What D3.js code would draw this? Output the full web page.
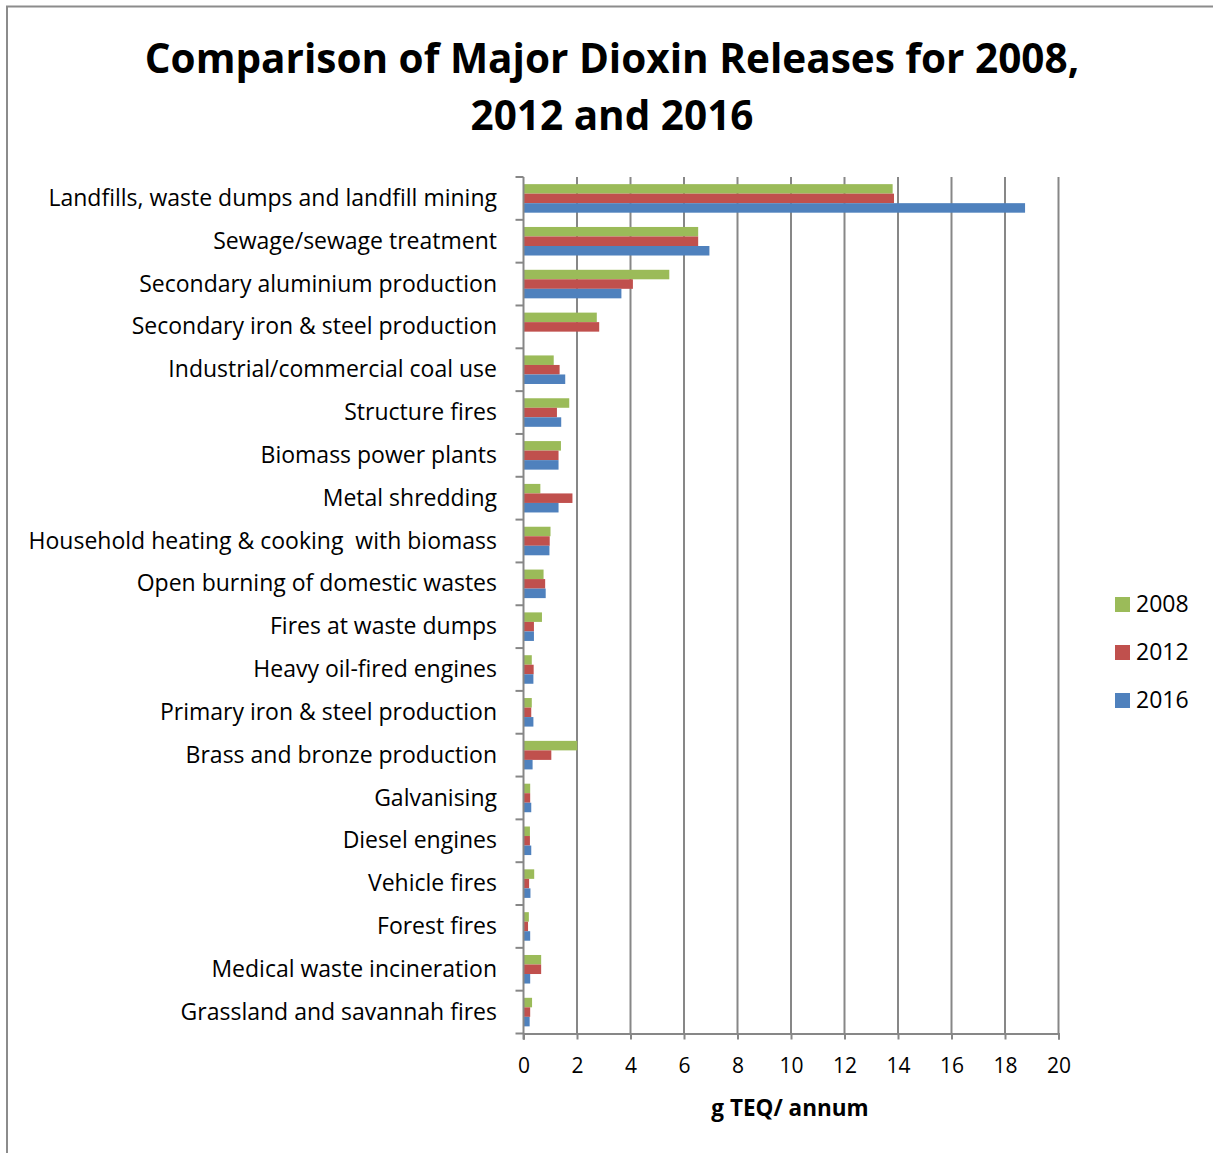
<!DOCTYPE html>
<html>
<head>
<meta charset="utf-8">
<script src="https://cdn.jsdelivr.net/npm/d3@7"></script>
<style>
  html, body { margin: 0; padding: 0; background: #fff; }
  svg { display: block; }
  text { font-family: "Open Sans", Lato, sans-serif; fill: #000; white-space: pre; }
</style>
</head>
<body>
<svg id="chart" width="1213" height="1153"></svg>
<script>
const categories = [
  "Landfills, waste dumps and landfill mining",
  "Sewage/sewage treatment",
  "Secondary aluminium production",
  "Secondary iron & steel production",
  "Industrial/commercial coal use",
  "Structure fires",
  "Biomass power plants",
  "Metal shredding",
  "Household heating & cooking  with biomass",
  "Open burning of domestic wastes",
  "Fires at waste dumps",
  "Heavy oil-fired engines",
  "Primary iron & steel production",
  "Brass and bronze production",
  "Galvanising",
  "Diesel engines",
  "Vehicle fires",
  "Forest fires",
  "Medical waste incineration",
  "Grassland and savannah fires"
];
const seriesNames = ["2008", "2012", "2016"];
const values2008 = [13.8, 6.53, 5.45, 2.74, 1.13, 1.71, 1.40, 0.63, 1.01, 0.75, 0.69, 0.31, 0.31, 2.01, 0.25, 0.24, 0.40, 0.20, 0.66, 0.32];
const values2012 = [13.85, 6.53, 4.09, 2.83, 1.35, 1.25, 1.31, 1.83, 0.98, 0.81, 0.39, 0.38, 0.29, 1.04, 0.25, 0.24, 0.21, 0.17, 0.66, 0.25];
const values2016 = [18.75, 6.95, 3.66, 0, 1.56, 1.41, 1.31, 1.31, 0.97, 0.83, 0.39, 0.37, 0.37, 0.34, 0.29, 0.29, 0.26, 0.25, 0.25, 0.23];
const xTicks = [0, 2, 4, 6, 8, 10, 12, 14, 16, 18, 20];
const colors = ["#9BBB59", "#C0504D", "#4F81BD"];
const titleLines = ["Comparison of Major Dioxin Releases for 2008,", "2012 and 2016"];
const xTitle = "g TEQ/ annum";

const seriesValues = [values2008, values2012, values2016];

const svg = d3.select("#chart");

// outer frame
svg.append("rect")
  .attr("x", 7).attr("y", 6.5)
  .attr("width", 1300).attr("height", 1300)
  .attr("fill", "none").attr("stroke", "#8c8c8c").attr("stroke-width", 2);

// title
svg.append("text")
  .attr("x", 612).attr("text-anchor", "middle")
  .style("font-size", "40.5px").style("font-weight", "bold")
  .selectAll("tspan").data(titleLines).join("tspan")
  .attr("x", 612)
  .attr("y", (d, i) => 73 + i * 57)
  .text(d => d);

const plot = { left: 523.5, right: 1058.5, top: 177, bottom: 1033.5 };

const x = d3.scaleLinear().domain([0, 20]).range([plot.left, plot.right]);
const y = d3.scaleBand().domain(categories).range([plot.top, plot.bottom]).padding(0);
const step = y.step();
const ySub = d3.scaleBand().domain(seriesNames).range([step / 6, step * 5 / 6]).padding(0);

// gridlines
svg.append("g").selectAll("line").data(xTicks.filter(t => t > 0)).join("line")
  .attr("x1", d => x(d)).attr("x2", d => x(d))
  .attr("y1", plot.top).attr("y2", plot.bottom)
  .attr("stroke", "#878787").attr("stroke-width", 2);

// bars
const rows = categories.map((c, i) => ({ c, vals: seriesNames.map((s, j) => ({ s, v: seriesValues[j][i], j })) }));
const g = svg.append("g").selectAll("g").data(rows).join("g")
  .attr("transform", d => `translate(0,${y(d.c)})`);
g.selectAll("rect").data(d => d.vals).join("rect")
  .attr("x", x(0))
  .attr("y", d => ySub(d.s))
  .attr("width", d => x(d.v) - x(0))
  .attr("height", ySub.bandwidth())
  .attr("fill", d => colors[d.j]);

// left axis line + ticks at band boundaries
svg.append("line")
  .attr("x1", plot.left).attr("x2", plot.left)
  .attr("y1", plot.top).attr("y2", plot.bottom + 6)
  .attr("stroke", "#878787").attr("stroke-width", 2);
const boundaries = d3.range(categories.length + 1).map(i => plot.top + i * step);
svg.append("g").selectAll("line").data(boundaries).join("line")
  .attr("x1", plot.left - 8).attr("x2", plot.left)
  .attr("y1", d => d).attr("y2", d => d)
  .attr("stroke", "#878787").attr("stroke-width", 2);

// category labels
svg.append("g").selectAll("text").data(categories).join("text")
  .attr("x", 497)
  .attr("y", d => y(d) + step / 2)
  .attr("dy", "0.33em")
  .attr("text-anchor", "end")
  .style("font-size", "23px")
  .text(d => d);

// bottom axis
const xAxis = d3.axisBottom(x).tickValues(xTicks).tickSize(6).tickPadding(19).tickFormat(d3.format("d"));
const ax = svg.append("g").attr("transform", `translate(0,${plot.bottom})`).call(xAxis);
ax.select(".domain").attr("stroke", "#878787").attr("stroke-width", 2);
ax.selectAll(".tick line").attr("stroke", "#878787").attr("stroke-width", 2);
ax.selectAll(".tick text").style("font-size", "21px").style("font-family", "'Open Sans', Lato, sans-serif").attr("fill", "#000");

// x title
svg.append("text")
  .attr("x", 790).attr("y", 1116)
  .attr("text-anchor", "middle")
  .style("font-size", "22.5px").style("font-weight", "bold")
  .text(xTitle);

// legend
const lg = svg.append("g").selectAll("g").data(seriesNames).join("g")
  .attr("transform", (d, i) => `translate(1115,${604 + i * 48})`);
lg.append("rect").attr("x", 0).attr("y", -7).attr("width", 15).attr("height", 15)
  .attr("fill", (d, i) => colors[i]);
lg.append("text").attr("x", 21).attr("y", 0).attr("dy", "0.35em")
  .style("font-size", "23px").text(d => d);
</script>
</body>
</html>
